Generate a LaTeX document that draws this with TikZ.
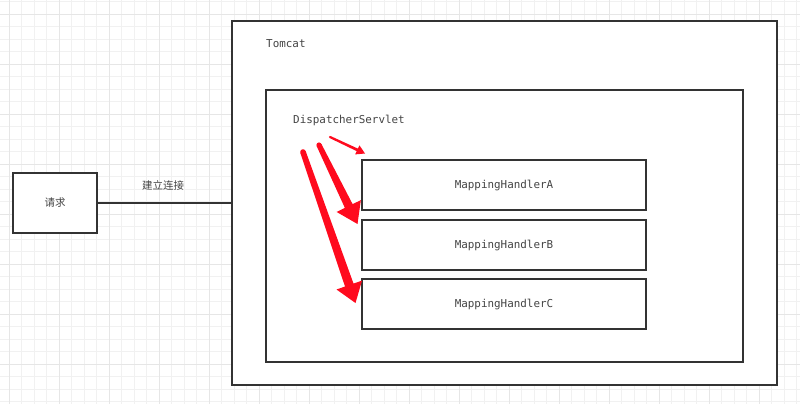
\documentclass[tikz,border=0pt]{standalone}
\usepackage{fontspec}
\setmonofont{DejaVu Sans Mono}
\newfontfamily\cjk{Noto Sans CJK SC}
\usetikzlibrary{calc}
\definecolor{gridminor}{HTML}{F1F1F1}
\definecolor{gridmajor}{HTML}{E6E6E6}
\definecolor{ink}{HTML}{333333}
\definecolor{txt}{HTML}{444444}
\definecolor{arrowred}{HTML}{FF0A1E}
\newcommand\redarrow[6]{%
  \coordinate (hb) at ($(#2)!#6!(#1)$);
  \fill[arrowred] ($(#1)!#3!90:(#2)$) -- ($(hb)!#4!90:(#2)$) -- ($(hb)!#5!90:(#2)$) -- (#2)
    -- ($(hb)!#5!-90:(#2)$) -- ($(hb)!#4!-90:(#2)$) -- ($(#1)!#3!-90:(#2)$) -- cycle;
  \fill[arrowred] (#1) circle[radius=#3];
}
\begin{document}
\begin{tikzpicture}[x=1pt,y=-1pt,
  box/.style={draw=ink,line width=1.5pt,fill=white,inner sep=0pt},
  mono/.style={text=txt,font=\ttfamily\fontsize{10.9}{12}\selectfont},
  cjklbl/.style={text=txt,font=\cjk\fontsize{10.5}{12}\selectfont},
  link/.style={draw=ink,line width=1.6pt}]
\useasboundingbox[fill=white] (0,0) rectangle (800,404);
\foreach \i in {0,...,65} {\draw[gridminor,line width=0.8pt] ({-3.2+12.5*\i},0) -- ++(0,404);}
\foreach \i in {0,...,33} {\draw[gridminor,line width=0.8pt] (0,{1.5+12.5*\i}) -- ++(800,0);}
\foreach \i in {0,...,16} {\draw[gridmajor,line width=0.8pt] ({9.3+50*\i},0) -- ++(0,404);}
\foreach \i in {0,...,8} {\draw[gridmajor,line width=0.8pt] (0,{14+50*\i}) -- ++(800,0);}

\node[box,minimum width=84pt,minimum height=60pt,mono] (req) at (55,203) {};
\node[cjklbl] (reqtxt) at (req.center) {请求};
\node[box,minimum width=545pt,minimum height=364pt] (tomcat) at (504.5,203) {};
\node[mono,anchor=west,inner sep=0pt] (tomcatlbl) at (266,44) {Tomcat};
\node[box,minimum width=477pt,minimum height=272pt] (disp) at (504.5,226) {};
\node[mono,anchor=west,inner sep=0pt] (displbl) at (293,120) {DispatcherServlet};
\node[box,mono,minimum width=284pt,minimum height=50pt] (ha) at (504,185) {MappingHandlerA};
\node[box,mono,minimum width=284pt,minimum height=50pt] (hb) at (504,245) {MappingHandlerB};
\node[box,mono,minimum width=284pt,minimum height=50pt] (hc) at (504,304) {MappingHandlerC};

\draw[link] (req.east) -- (req.east -| tomcat.west);
\node[cjklbl] (conn) at (163,185) {建立连接};

\coordinate (s1) at (330,137); \coordinate (t1) at (365,153.5);
\coordinate (s2) at (319,145); \coordinate (t2) at (357.5,224);
\coordinate (s3) at (303,152); \coordinate (t3) at (355.5,303);
\redarrow{s1}{t1}{1.1pt}{1.4pt}{5pt}{8.5pt}
\redarrow{s2}{t2}{2.6pt}{4.3pt}{13.5pt}{20pt}
\redarrow{s3}{t3}{2.8pt}{4.5pt}{13.5pt}{19pt}
\end{tikzpicture}
\end{document}
